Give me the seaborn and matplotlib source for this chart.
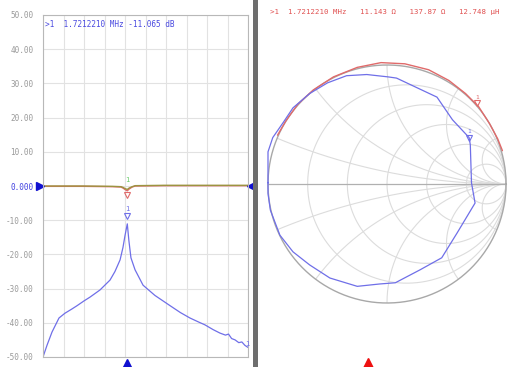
import numpy as np
import pandas as pd
import matplotlib
matplotlib.use("Agg")
import matplotlib.pyplot as plt
import matplotlib.transforms as mtransforms
from matplotlib.patches import Circle, Rectangle
import seaborn as sns

# ---- data ----
f_start, f_stop = 1.31, 2.31          # MHz (sweep, no axis labels shown)
f_marker = 1.7212210
marker_db = -11.065

# blue trace (log magnitude, dB)
blue_f = [1.310, 1.330, 1.354, 1.388, 1.417, 1.450, 1.476, 1.510, 1.539, 1.588,
          1.637, 1.661, 1.686, 1.700, 1.710, 1.7212, 1.729, 1.739, 1.759, 1.798,
          1.856, 1.930, 1.980, 2.027, 2.070, 2.100, 2.140, 2.173, 2.200, 2.215,
          2.230, 2.247, 2.265, 2.280, 2.295, 2.310]
blue_db = [-50.0, -46.5, -42.7, -38.6, -37.2, -36.0, -35.0, -33.6, -32.5, -30.4,
           -27.5, -25.0, -21.6, -18.0, -14.5, -11.065, -16.0, -21.0, -24.5, -29.0,
           -32.0, -35.0, -37.0, -38.6, -39.8, -40.6, -42.0, -43.0, -43.6, -43.3,
           -44.6, -45.0, -45.8, -45.6, -46.6, -47.2]

# red and olive traces near 0 dB
flat_f = [1.310, 1.500, 1.650, 1.690, 1.700, 1.712, 1.7212, 1.730, 1.745, 1.760,
          1.900, 2.100, 2.310]
red_db = [-0.1, -0.1, -0.2, -0.3, -0.6, -1.1, -1.4, -0.9, -0.3, 0.0,
          0.1, 0.1, 0.1]
olive_db = [0.0, 0.0, -0.1, -0.2, -0.4, -0.8, -1.0, -0.6, -0.2, 0.1,
            0.2, 0.2, 0.2]

# Smith chart traces (reflection coefficient, re / im)
blue_re = [-1.00, -1.00, -0.96, -0.87, -0.79, -0.65, -0.50, -0.34, -0.17, 0.01,
           0.08, 0.42, 0.55, 0.69, 0.70, 0.71, 0.74, 0.59, 0.46, 0.28,
           0.07, -0.06, -0.25, -0.48, -0.65, -0.79, -0.90, -0.98, -1.00, -1.00]
blue_im = [0.01, 0.27, 0.39, 0.52, 0.64, 0.76, 0.85, 0.91, 0.92, 0.90,
           0.89, 0.73, 0.54, 0.39, 0.33, 0.01, -0.16, -0.41, -0.62, -0.72,
           -0.83, -0.84, -0.86, -0.79, -0.68, -0.57, -0.43, -0.22, -0.08, 0.01]
red_re = [-0.92, -0.85, -0.75, -0.62, -0.45, -0.25, -0.05, 0.15, 0.35, 0.52,
          0.66, 0.77, 0.86, 0.93, 0.97]
red_im = [0.41, 0.53, 0.67, 0.79, 0.90, 0.98, 1.02, 1.01, 0.96, 0.87,
          0.76, 0.65, 0.51, 0.38, 0.28]
smith_marker = (0.76, 0.68)
smith_blue_marker = (0.69, 0.39)

y_ticks = [50, 40, 30, 20, 10, 0, -10, -20, -30, -40, -50]
r_grid = [0.2, 0.5, 1, 2, 5]
x_grid = [0.2, 0.5, 1, 2, 5]

left_header = ">1  1.7212210 MHz -11.065 dB"
right_header = ">1  1.7212210 MHz   11.143 \u03a9   137.87 \u03a9   12.748 \u00b5H"

# ---- figure ----
sns.set_style("white")
plt.rcParams["font.family"] = ["DejaVu Sans Mono", "DejaVu Sans"]

W, H = 510, 367
fig = plt.figure(figsize=(W / 100, H / 100), dpi=100)
fig.patch.set_facecolor("white")

BLUE = "#6f6fe8"
RED = "#e06a6a"
OLIVE = "#9c9440"
GRID = "#e2e2e2"
SGRID = "#dcdcdc"

# left panel: log magnitude
ax = fig.add_axes([43 / W, 1 - 357 / H, 205 / W, 342 / H])
sns.lineplot(x=flat_f, y=red_db, ax=ax, color=RED, lw=1.0, sort=False, estimator=None)
sns.lineplot(x=flat_f, y=olive_db, ax=ax, color=OLIVE, lw=1.0, sort=False, estimator=None)
sns.lineplot(x=blue_f, y=blue_db, ax=ax, color=BLUE, lw=0.9, sort=False, estimator=None)
ax.set_xlim(f_start, f_stop)
ax.set_ylim(-50, 50)
ax.set_xticks(np.linspace(f_start, f_stop, 11))
ax.set_yticks(y_ticks)
ax.set_yticklabels([("%.3f" % v) if v == 0 else ("%.2f" % v) for v in y_ticks])
ax.set_xticklabels([])
ax.grid(True, color=GRID, lw=0.8)
ax.tick_params(length=0, labelsize=5.5, labelcolor="#9a9a9a", pad=7)
for lbl in ax.get_yticklabels():
    if lbl.get_text() == "0.000":
        lbl.set_color("#4040e0")
for s in ax.spines.values():
    s.set_color("#b8b8b8")
    s.set_linewidth(0.8)
ax.set_xlabel("")
ax.set_ylabel("")

off = lambda dx, dy: mtransforms.offset_copy(ax.transData, fig=fig, x=dx, y=dy, units="points")
# blue marker on peak
ax.plot([f_marker], [marker_db], marker="v", ms=5, mfc="none", mec=BLUE, mew=0.8,
        transform=off(0, 6))
ax.text(f_marker, marker_db, "1", color=BLUE, fontsize=5, ha="center",
        transform=off(0, 9))
# red marker below 0 dB trace, green label above
ax.plot([f_marker], [red_db[6]], marker="v", ms=5, mfc="none", mec=RED, mew=0.8,
        transform=off(0, -3))
ax.text(f_marker, 0, "1", color="#66cc66", fontsize=5, ha="center",
        transform=off(0, 3))
ax.text(f_stop, blue_db[-1], "1", color=BLUE, fontsize=5, ha="left", va="bottom",
        transform=off(-2, 0))
# reference level arrows and bottom marker
ax.plot([f_start], [0], marker=">", ms=6, color="#1010d0", clip_on=False,
        transform=off(-2, 0))
ax.plot([f_stop], [0], marker="<", ms=6, color="#1010d0", clip_on=False,
        transform=off(2, 0))
ax.plot([f_marker], [-50], marker="^", ms=7, color="#1010d0", clip_on=False,
        transform=off(0, -5))
ax.text(0.01, 0.985, left_header, transform=ax.transAxes, color="#4a4ae0",
        fontsize=5.6, va="top", ha="left")

# divider bar
fig.add_artist(Rectangle((253 / W, 0), 5 / W, 1, transform=fig.transFigure,
                         color="#6e6e6e", lw=0))

# right panel: Smith chart (centre at (387,184) px, radius 119 px)
cx, cy, rad = 387, 184, 119
sx = fig.add_axes([260 / W, 0, 250 / W, 1])

unit = Circle((0, 0), 1, transform=sx.transData)
t = np.linspace(0, 2 * np.pi, 400)
for r in r_grid:
    c, rr = r / (1 + r), 1 / (1 + r)
    sx.plot(c + rr * np.cos(t), rr * np.sin(t), color=SGRID, lw=0.8)
for xv in x_grid:
    for sgn in (1, -1):
        line, = sx.plot(1 + (1 / xv) * np.cos(t), sgn / xv + (1 / xv) * np.sin(t),
                        color=SGRID, lw=0.8)
        line.set_clip_path(unit)
sx.plot([-1, 1], [0, 0], color="#b0b0b0", lw=0.9)
sx.plot(np.cos(t), np.sin(t), color="#a8a8a8", lw=1.0)

sns.lineplot(x=red_re, y=red_im, ax=sx, color=RED, lw=1.0, sort=False, estimator=None)
sns.lineplot(x=blue_re, y=blue_im, ax=sx, color=BLUE, lw=0.9, sort=False, estimator=None)
sx.set_xlim((260 - cx) / rad, (510 - cx) / rad)
sx.set_ylim((cy - H) / rad, cy / rad)
sx.axis("off")

soff = lambda dx, dy: mtransforms.offset_copy(sx.transData, fig=fig, x=dx, y=dy, units="points")
sx.plot([smith_marker[0]], [smith_marker[1]], marker="v", ms=4.5, mfc="none",
        mec=RED, mew=0.8, transform=soff(0, 0))
sx.text(smith_marker[0], smith_marker[1], "1", color=RED, fontsize=4.5, ha="center",
        transform=soff(0, 3))
sx.plot([smith_blue_marker[0]], [smith_blue_marker[1]], marker="v", ms=4.5, mfc="none",
        mec=BLUE, mew=0.8, transform=soff(0, 0))
sx.text(smith_blue_marker[0], smith_blue_marker[1], "1", color=BLUE, fontsize=4.5,
        ha="center", transform=soff(0, 3))
fig.text(270 / W, 1 - 12 / H, right_header, color="#e05050", fontsize=5.3,
         va="center", ha="left")
fig.add_artist(plt.Line2D([368 / W], [1 - 363 / H], marker="^", ms=7, color="#ee1010",
                          transform=fig.transFigure))

fig.savefig("out.png", dpi=100, facecolor="white")
